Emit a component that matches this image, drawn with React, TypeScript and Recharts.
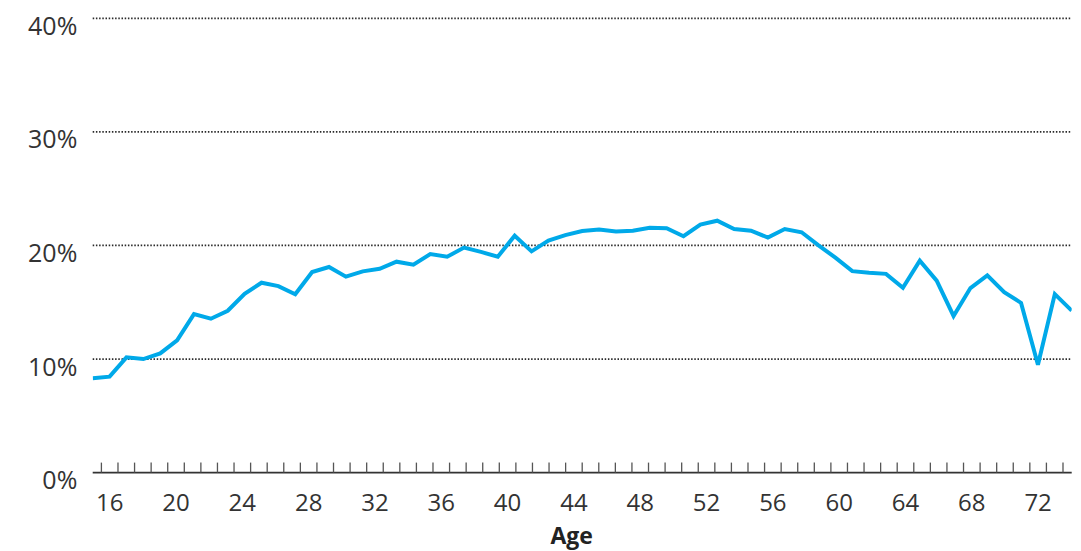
import React from 'react';
import { LineChart, Line, XAxis, YAxis, CartesianGrid, Label } from 'recharts';

const ages = [
  16, 17, 18, 19, 20, 21, 22, 23, 24, 25, 26, 27, 28, 29, 30, 31, 32, 33, 34, 35,
  36, 37, 38, 39, 40, 41, 42, 43, 44, 45, 46, 47, 48, 49, 50, 51, 52, 53, 54, 55,
  56, 57, 58, 59, 60, 61, 62, 63, 64, 65, 66, 67, 68, 69, 70, 71, 72, 73, 74,
];

const shares = [
  8.3, 8.45, 10.15, 10.0, 10.5, 11.65, 13.95, 13.55, 14.25, 15.75,
  16.72, 16.42, 15.7, 17.66, 18.1, 17.25, 17.72, 17.95, 18.57, 18.3,
  19.24, 19.01, 19.81, 19.43, 19.01, 20.86, 19.48, 20.42, 20.91, 21.27,
  21.4, 21.22, 21.3, 21.56, 21.51, 20.81, 21.83, 22.18, 21.45, 21.3,
  20.69, 21.45, 21.16, 20.0, 18.93, 17.74, 17.6, 17.5, 16.27, 18.66,
  16.9, 13.79, 16.25, 17.37, 15.88, 14.94, 9.5, 15.72, 14.26,
];

const yTicks = [0, 10, 20, 30, 40];
const xLabelTicks = [16, 20, 24, 28, 32, 36, 40, 44, 48, 52, 56, 60, 64, 68, 72];
const xBandTicks = Array.from({ length: 59 }, (_, i) => 15.5 + i);
const xAllTicks = [...xBandTicks, ...xLabelTicks].sort((a, b) => a - b);

const data = ages.map((age, i) => ({ age, share: shares[i] }));

const FONT = "'Open Sans', 'DejaVu Sans', sans-serif";
const TEXT = '#333333';

const YTick = (props: any) => {
  const { x, y, payload } = props;
  return (
    <text x={x} y={y} dy={16.5} textAnchor="end" fontSize={25} fill={TEXT} fontFamily={FONT}>
      {payload.value}%
    </text>
  );
};

const XTick = (props: any) => {
  const { x, y, payload } = props;
  const v = payload.value;
  if (Number.isInteger(v)) {
    return (
      <text x={x} y={y} dy={38} textAnchor="middle" fontSize={24} fill={TEXT} fontFamily={FONT}>
        {v}
      </text>
    );
  }
  return <line x1={x} x2={x} y1={y - 10} y2={y} stroke="#555" strokeWidth={1.3} />;
};

const AgeLabel = (props: any) => {
  const { viewBox } = props;
  const cx = viewBox.x + viewBox.width / 2 - 10.5;
  return (
    <text x={cx} y={viewBox.y + viewBox.height - 7} textAnchor="middle" fontSize={23} fontWeight={700} fill="#222" fontFamily={FONT}>
      Age
    </text>
  );
};

export default function App() {
  return (
    <div style={{ position: 'absolute', left: 0, top: 0, width: 1081, height: 551, background: '#fff' }}>
      <LineChart
        width={1081}
        height={551}
        data={data}
        margin={{ top: 18.3, right: 9.3, left: 0, bottom: 0 }}
      >
        <CartesianGrid
          xAxisId="line"
          vertical={false}
          horizontalValues={[10, 20, 30, 40]}
          stroke="#2a2a2a"
          strokeWidth={1.8}
          strokeDasharray="1.5 1.7"
        />
        <XAxis xAxisId="line" dataKey="age" type="number" domain={[16, 74]} hide height={0} allowDataOverflow />
        <XAxis
          xAxisId="ticks"
          dataKey="age"
          type="number"
          domain={[14.975, 74.025]}
          allowDataOverflow
          ticks={xAllTicks}
          interval={0}
          height={78.4}
          tickSize={0}
          tickMargin={0}
          tickLine={false}
          axisLine={{ stroke: '#333', strokeWidth: 1.6 }}
          tick={<XTick />}
        >
          <Label content={<AgeLabel />} />
        </XAxis>
        <YAxis
          type="number"
          domain={[0, 40]}
          ticks={yTicks}
          interval={0}
          width={92.7}
          tickSize={0}
          tickMargin={15.4}
          tickLine={false}
          axisLine={false}
          tick={<YTick />}
        />
        <Line
          xAxisId="line"
          type="linear"
          dataKey="share"
          stroke="#00a9e9"
          strokeWidth={4}
          dot={false}
          isAnimationActive={false}
        />
      </LineChart>
    </div>
  );
}
